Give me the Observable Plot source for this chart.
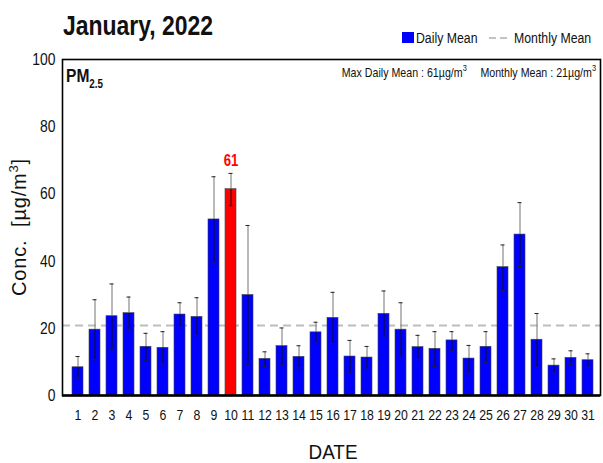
<!DOCTYPE html>
<html>
<head>
<meta charset="utf-8">
<script src="https://cdn.jsdelivr.net/npm/d3@7"></script>
<script src="https://cdn.jsdelivr.net/npm/@observablehq/plot@0.6"></script>
<style>
  body { margin: 0; background: #fff; }
  #chart { position: relative; width: 603px; height: 463px; }
</style>
</head>
<body>
<div id="chart"></div>
<script>
const days = d3.range(1, 32);
const dailyMean = [8.4,19.6,23.6,24.5,14.5,14.2,24.1,23.4,52.4,61.4,29.9,10.9,14.7,11.5,18.8,23.1,11.6,11.3,24.3,19.6,14.4,13.9,16.4,11.0,14.5,38.2,47.9,16.6,8.9,11.2,10.5];
const errUpper = [11.6,28.5,33.2,29.3,18.5,19.0,27.6,29.1,65.1,66.1,50.6,13.0,20.1,14.8,21.8,30.7,16.4,14.6,31.1,27.6,17.9,19.0,19.0,14.9,19.0,44.8,57.4,24.4,10.9,13.3,12.4];
const errLower = [5.2,10.6,13.9,19.5,10.5,9.4,20.3,17.8,39.7,56.5,9.1,8.7,9.1,8.2,15.9,15.5,6.7,7.8,17.3,11.4,10.7,8.6,13.3,6.7,9.9,31.2,38.4,8.4,6.7,9.3,8.4];
const yTicks = [0, 20, 40, 60, 80, 100];

const data = days.map((d, i) => ({day: d, mean: dailyMean[i], hi: errUpper[i], lo: errLower[i]}));
const maxRow = data.reduce((a, b) => (b.mean > a.mean ? b : a));
const monthly = d3.mean(dailyMean);
const font = '"Liberation Sans", Arial, sans-serif';
const NARROW = 0.82;

const chart = Plot.plot({
  width: 603,
  height: 463,
  marginTop: 59,
  marginBottom: 68,
  marginLeft: 62,
  marginRight: 3,
  style: {fontFamily: font, background: "#fff"},
  x: {type: "band", domain: days, paddingInner: 0.37, paddingOuter: 0.1, insetLeft: 3, label: null},
  y: {domain: [0, 100], label: null},
  marks: [
    Plot.ruleY([monthly], {stroke: "#bdbdbd", strokeWidth: 2, strokeDasharray: "8,5"}),
    Plot.barY(data, {x: "day", y: "mean", fill: d => d === maxRow ? "#ff0000" : "#0000ff", stroke: "#444", strokeWidth: 0.6}),
    Plot.ruleX(data, {x: "day", y1: "mean", y2: "hi", stroke: "#8a8a8a", strokeWidth: 1.2}),
    Plot.ruleX(data, {x: "day", y1: "lo", y2: "mean", stroke: "#111", strokeWidth: 1}),
    Plot.tickY(data, {x: "day", y: "hi", stroke: "#222", strokeWidth: 1, insetLeft: 3.5, insetRight: 3.5}),
    Plot.tickY(data, {x: "day", y: "lo", stroke: "#222", strokeWidth: 1, insetLeft: 3.5, insetRight: 3.5}),
    Plot.text([maxRow], {x: "day", y: "hi", text: d => String(Math.round(d.mean)), dy: -13, fill: "#ff0000", fontWeight: "bold", fontSize: 16, className: "narrow"}),
    Plot.axisY({ticks: yTicks, tickSize: 0, tickPadding: 7, fontSize: 17, label: null, fill: "#111", className: "narrow"}),
    Plot.axisX({tickSize: 0, tickPadding: 14, fontSize: 15, label: null, fill: "#111", className: "narrow"}),
    Plot.frame({stroke: "#000", strokeWidth: 1.6}),
    Plot.ruleY([0], {stroke: "#000", strokeWidth: 2.5})
  ]
});

document.getElementById("chart").appendChild(chart);

const svg = d3.select(chart);
// condense tick / label texts horizontally to mimic the narrow font
svg.selectAll(".narrow text").each(function() {
  const t = this.getAttribute("transform") || "";
  this.setAttribute("transform", (t + ` scale(${NARROW},1)`).trim());
  // x/y attributes (if any) must be compensated
  const x = this.getAttribute("x");
  if (x) this.setAttribute("x", +x / NARROW);
});

function txt(x, y, size, opts = {}) {
  return svg.append("text")
    .attr("transform", `translate(${x},${y}) scale(${opts.scale ?? NARROW},1)`)
    .attr("text-anchor", opts.anchor || "start")
    .attr("font-size", size)
    .attr("font-weight", opts.bold ? "bold" : "normal")
    .attr("font-family", font)
    .attr("fill", "#111")
    .attr("stroke", "none");
}

txt(63, 35, 28, {bold: true}).text("January, 2022");

// legend
svg.append("rect").attr("x", 402).attr("y", 32).attr("width", 12).attr("height", 11).attr("fill", "#0000ff");
txt(416, 43, 15).text("Daily Mean");
svg.append("line").attr("x1", 489).attr("x2", 510).attr("y1", 38).attr("y2", 38)
  .attr("stroke", "#b0b0b0").attr("stroke-width", 1.5).attr("stroke-dasharray", "7,4");
txt(514, 43, 15).text("Monthly Mean");

// PM2.5 label
const pm = txt(66, 82, 19, {bold: true});
pm.append("tspan").text("PM");
pm.append("tspan").attr("font-size", 12).attr("dy", 6).text("2.5");

// annotation
const ann = txt(596, 77, 13, {anchor: "end"});
ann.append("tspan").text("Max Daily Mean : " + Math.round(maxRow.mean) + "\u00b5g/m");
ann.append("tspan").attr("font-size", 9).attr("dy", -6).text("3");
ann.append("tspan").attr("dy", 6).text("\u2003 Monthly Mean : " + Math.round(monthly) + "\u00b5g/m");
ann.append("tspan").attr("font-size", 9).attr("dy", -6).text("3");

// axis titles
txt(333, 459, 21, {anchor: "middle", scale: 0.9}).text("DATE");
const yl = svg.append("text").attr("transform", "translate(26,227) rotate(-90)")
  .attr("text-anchor", "middle").attr("font-size", 20).attr("letter-spacing", 0.8)
  .attr("font-family", font).attr("fill", "#111");
yl.append("tspan").text("Conc.  [\u00b5g/m");
yl.append("tspan").attr("font-size", 13).attr("dy", -8).text("3");
yl.append("tspan").attr("dy", 8).text("]");
</script>
</body>
</html>
